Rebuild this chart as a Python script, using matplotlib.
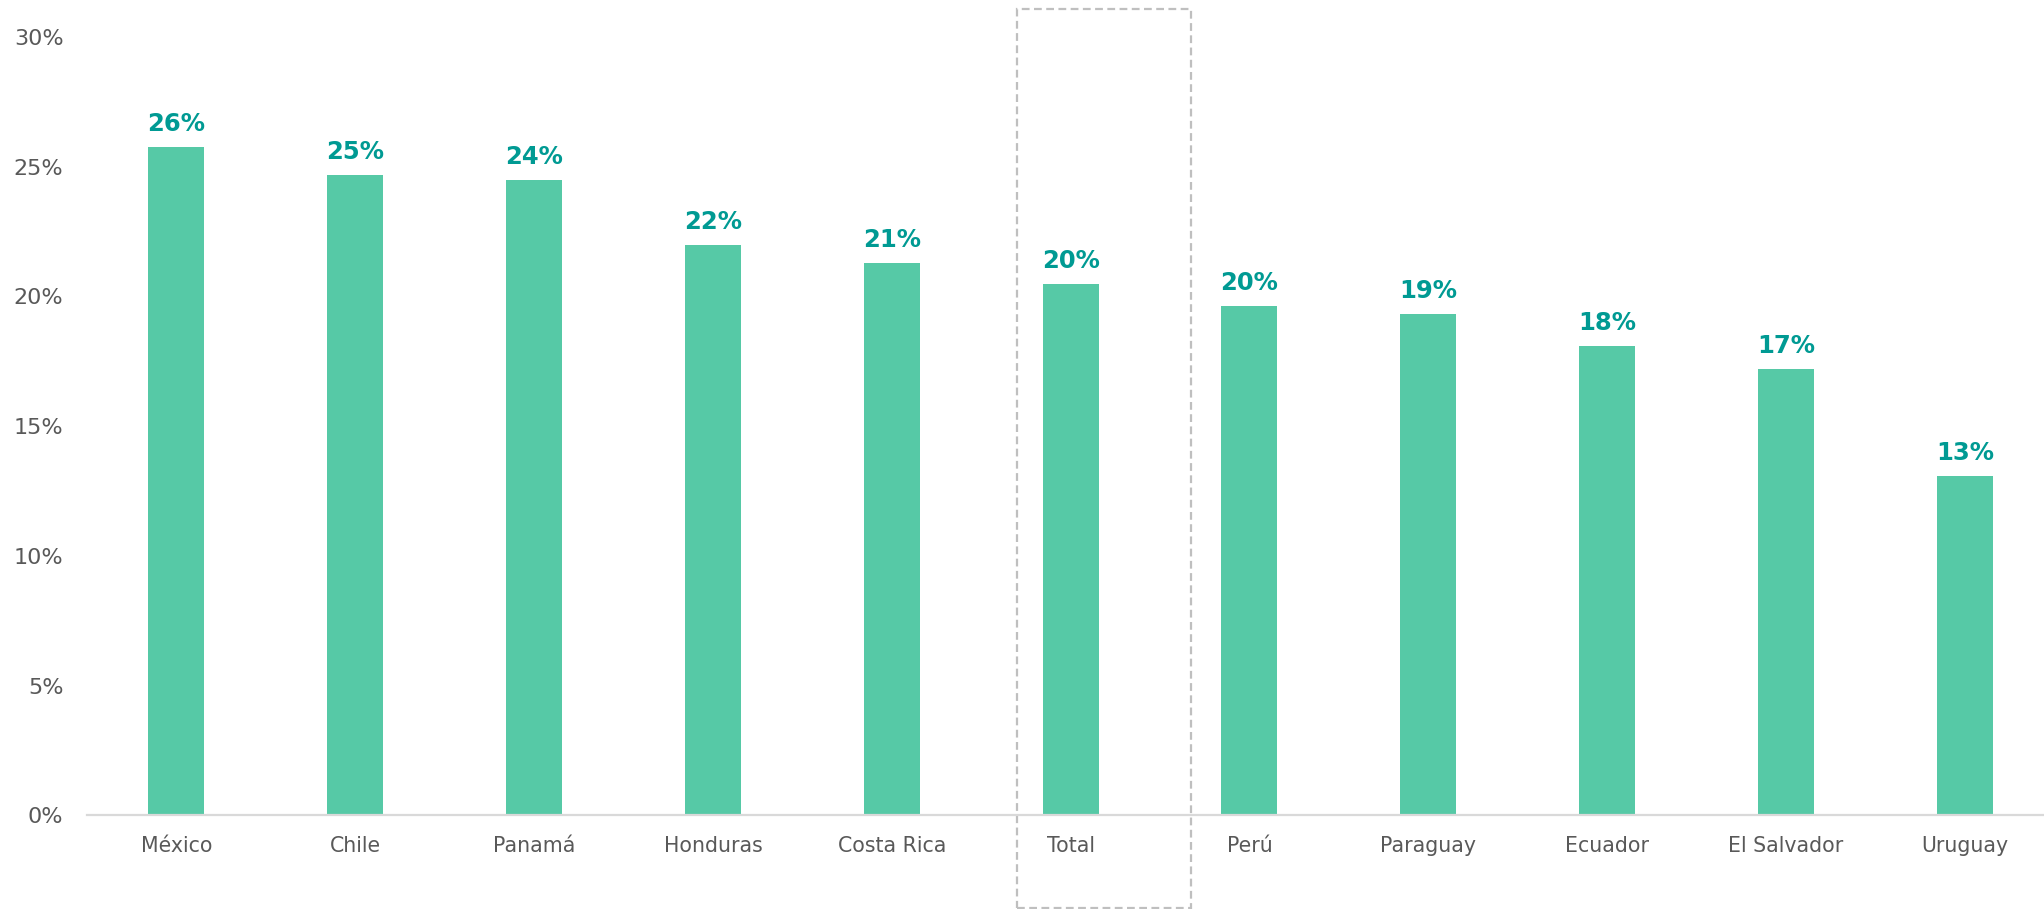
import matplotlib
matplotlib.use("Agg")
import matplotlib.pyplot as plt
from matplotlib.patches import Rectangle
from matplotlib.transforms import blended_transform_factory

categories = ["México", "Chile", "Panamá", "Honduras", "Costa Rica", "Total",
              "Perú", "Paraguay", "Ecuador", "El Salvador", "Uruguay"]
values = [25.77, 24.69, 24.49, 21.97, 21.27, 20.48, 19.61, 19.31, 18.10, 17.20, 13.08]
yticks = [0, 5, 10, 15, 20, 25, 30]
ytick_labels = [f"{v}%" for v in yticks]

BAR = "#56C9A6"
LABEL = "#009A93"
TICK = "#595959"

plt.rcParams["font.family"] = ["DejaVu Sans"]

W, H = 2044, 909
fig = plt.figure(figsize=(W / 100, H / 100), dpi=100)
ax = fig.add_axes([87 / W, 1 - 815.3 / H, 11 * 178.84 / W, (815.3 - 36.8) / H])

x = list(range(len(categories)))
ax.bar(x, values, width=0.313, color=BAR, zorder=2)
ax.set_xlim(-0.5, 10.5)
ax.set_ylim(0, 30)

for xi, v in zip(x, values):
    ax.annotate(f"{round(v)}%", (xi, v), xytext=(0, 11.5), textcoords="offset points",
                ha="center", va="baseline", fontsize=17.5, fontweight="bold", color=LABEL)

ax.set_xticks(x)
ax.set_xticklabels(categories, fontsize=14.8, color=TICK)
ax.set_yticks(yticks)
ax.set_yticklabels(ytick_labels, fontsize=16, color=TICK)
ax.tick_params(axis="both", length=0)
ax.tick_params(axis="x", pad=15)
ax.tick_params(axis="y", pad=17)

for s in ["top", "right", "left"]:
    ax.spines[s].set_visible(False)
ax.spines["bottom"].set_color("#D9D9D9")
ax.spines["bottom"].set_linewidth(1.6)
ax.spines["bottom"].set_zorder(3)

# dashed highlight box around "Total"
ti = categories.index("Total")
trans = blended_transform_factory(ax.transData, fig.transFigure)
y0 = 1 - 908 / H
y1 = 1 - 9 / H
rect = Rectangle((ti - 0.30, y0), 0.972, y1 - y0, transform=trans, fill=False,
                 edgecolor="#BFBFBF", linewidth=1.6, linestyle=(0, (3.5, 2)),
                 clip_on=False, zorder=1)
ax.add_patch(rect)

fig.savefig("out.png", dpi=100)
